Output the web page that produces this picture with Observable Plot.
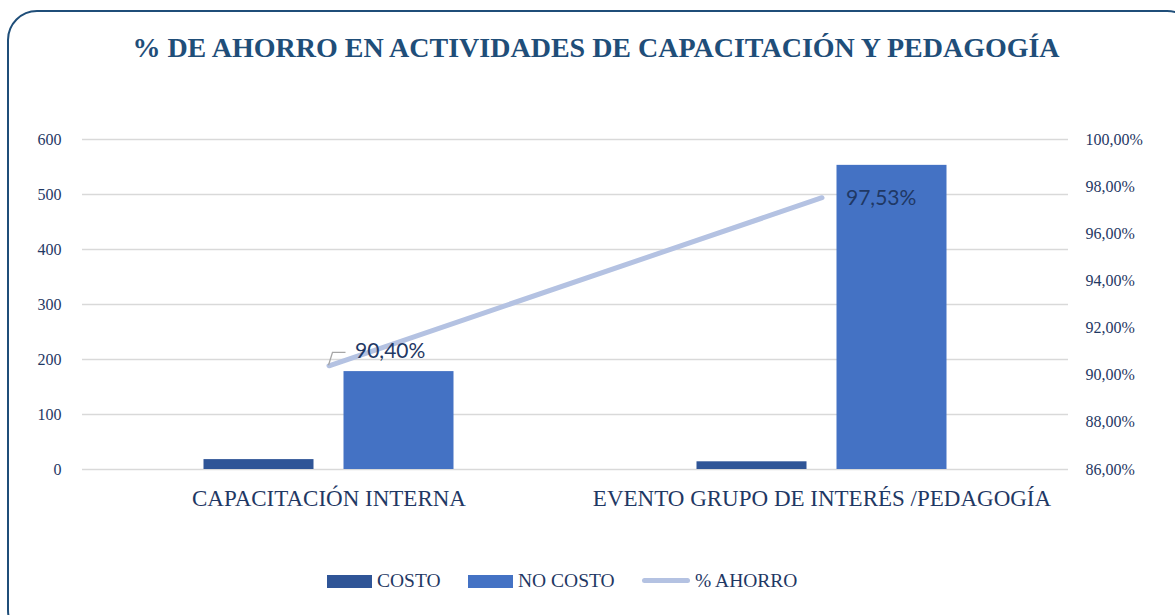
<!DOCTYPE html>
<html><head><meta charset="utf-8">
<script src="https://cdn.jsdelivr.net/npm/d3@7"></script>
<script src="https://cdn.jsdelivr.net/npm/@observablehq/plot@0.6"></script>
<style>
body{margin:0;background:#fff;}
#wrap{position:relative;width:1175px;height:615px;overflow:hidden;background:#fff;}
#frame{position:absolute;left:7px;top:10px;width:1190px;height:630px;border:2.5px solid #1F4E79;border-radius:30px;box-sizing:border-box;}
#title{position:absolute;top:31px;left:0;width:1192px;text-align:center;font:bold 28px "Liberation Serif",serif;color:#1F4E79;white-space:nowrap;line-height:34px;}
#chart{position:absolute;left:0;top:0;}
.leg{position:absolute;top:569px;font:19.5px "Liberation Serif",serif;color:#1F3864;line-height:24px;white-space:nowrap;}
.sw{position:absolute;}
</style></head>
<body>
<div id="wrap">
  <div id="frame"></div>
  <div id="chart"></div>
  <div id="title"></div>
  <div id="legend"></div>
</div>
<script>
const title = "% DE AHORRO EN ACTIVIDADES DE CAPACITACIÓN Y PEDAGOGÍA";
const categories = ["CAPACITACIÓN INTERNA", "EVENTO GRUPO DE INTERÉS /PEDAGOGÍA"];
const costo = [18, 14];
const noCosto = [178, 553];
const ahorro = [90.40, 97.53];
const ahorroLabels = ["90,40%", "97,53%"];
const leftTicks = [0, 100, 200, 300, 400, 500, 600];
const rightTicks = [86, 88, 90, 92, 94, 96, 98, 100];
const seriesNames = ["COSTO", "NO COSTO", "% AHORRO"];
const colors = ["#2F5597", "#4472C4", "#B4C2E2"];

document.getElementById("title").textContent = title;

const pMin = 86, pMax = 100, yMax = 600;
const toLeft = p => (p - pMin) / (pMax - pMin) * yMax;
const fromLeft = v => v / yMax * (pMax - pMin) + pMin;
const fmtPct = p => p.toFixed(2).replace(".", ",") + "%";

const costoData = categories.map((c, i) => ({cat: c, v: costo[i]}));
const noCostoData = categories.map((c, i) => ({cat: c, v: noCosto[i]}));
const ahorroData = categories.map((c, i) => ({cat: c, p: ahorro[i], y: toLeft(ahorro[i]), label: ahorroLabels[i]}));

const leader = (index, scales) => {
  const sx = scales.x, sy = scales.y;
  const bw = typeof sx.bandwidth === "function" ? sx.bandwidth() : (sx.bandwidth || 0);
  const d = ahorroData[0];
  const x0 = sx(d.cat) + bw / 2, y0 = sy(d.y);
  const path = d3.create("svg:path")
    .attr("d", `M${x0},${y0} L${x0 + 4},${y0 - 13} L${x0 + 17},${y0 - 13}`)
    .attr("fill", "none").attr("stroke", "#A6A6A6").attr("stroke-width", 1.3);
  return path.node();
};

const chart = Plot.plot({
  width: 1175, height: 615,
  marginLeft: 82, marginRight: 107, marginTop: 139, marginBottom: 146,
  style: {fontFamily: "'Liberation Serif', serif", color: "#1F3864", background: "transparent"},
  x: {domain: categories, padding: 0, axis: null},
  y: {domain: [0, yMax], axis: null},
  marks: [
    Plot.ruleY(leftTicks, {stroke: "#D9D9D9", strokeWidth: 1.5}),
    Plot.barY(costoData, {x: "cat", y: "v", fill: colors[0], insetLeft: 121.5, insetRight: 261.5}),
    Plot.barY(noCostoData, {x: "cat", y: "v", fill: colors[1], insetLeft: 261.5, insetRight: 121.5}),
    Plot.lineY(ahorroData, {x: "cat", y: "y", stroke: colors[2], strokeWidth: 5, strokeLinecap: "round"}),
    Plot.axisY({ticks: leftTicks, anchor: "left", tickSize: 0, tickPadding: 21, fontSize: 16, label: null}),
    Plot.axisY({ticks: rightTicks.map(toLeft), anchor: "right", tickSize: 0, tickPadding: 17, fontSize: 16, label: null,
      textAnchor: "start", tickFormat: v => fmtPct(fromLeft(v))}),
    Plot.axisX({anchor: "bottom", tickSize: 0, tickPadding: 20, fontSize: 23, label: null}),
    leader,
    Plot.text([ahorroData[0]], {x: "cat", y: "y", text: "label", textAnchor: "start", dx: 26, dy: -15,
      fontSize: 21, fontFamily: "Lato, sans-serif", fill: "#1F3864"}),
    Plot.text([ahorroData[1]], {x: "cat", y: "y", text: "label", textAnchor: "start", dx: 24, dy: 1,
      fontSize: 21, fontFamily: "Lato, sans-serif", fill: "#1F3864"})
  ]
});
document.getElementById("chart").appendChild(chart);

// legend
const leg = document.getElementById("legend");
const legPos = [{sx: 327, tx: 377}, {sx: 468, tx: 518}, {sx: 642, tx: 695}];
seriesNames.forEach((name, i) => {
  const sw = document.createElement("div");
  sw.className = "sw";
  if (i < 2) {
    Object.assign(sw.style, {left: legPos[i].sx + "px", top: "575px", width: "45px", height: "13px", background: colors[i]});
  } else {
    Object.assign(sw.style, {left: legPos[i].sx + "px", top: "578px", width: "48px", height: "5px", background: colors[i], borderRadius: "3px"});
  }
  leg.appendChild(sw);
  const t = document.createElement("div");
  t.className = "leg";
  t.style.left = legPos[i].tx + "px";
  t.textContent = name;
  leg.appendChild(t);
});
</script>
</body></html>
